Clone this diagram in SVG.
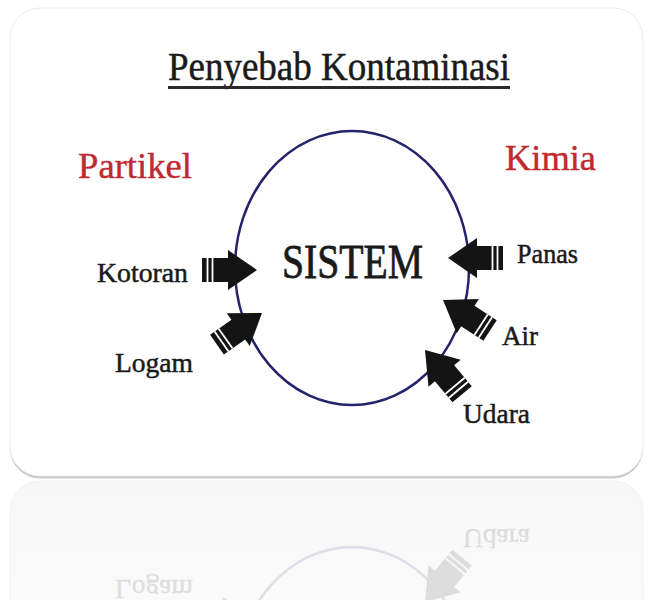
<svg xmlns="http://www.w3.org/2000/svg" xmlns:xlink="http://www.w3.org/1999/xlink" width="652" height="600" viewBox="0 0 652 600">
  <defs>
    <style>
      text { font-family: "Liberation Serif", "DejaVu Serif", serif; fill: #1a1a1a; stroke: #1a1a1a; stroke-width: 0.5; }
      .lbl { font-size: 28px; }
      .red { font-size: 36px; fill: #bf2a2f; stroke: #bf2a2f; stroke-width: 0.4; }
      .arrow-body { fill: #141414; }
      .gap { stroke: #ffffff; stroke-width: 1.8; }
    </style>
    <g id="arrow">
      <polygon class="arrow-body" points="0,0 -29,-20 -29,20"/>
      <rect class="arrow-body" x="-55" y="-12" width="27" height="24"/>
      <line class="gap" x1="-49.5" y1="-12" x2="-49.5" y2="12"/>
      <line class="gap" x1="-44.5" y1="-12" x2="-44.5" y2="12"/>
    </g>
    <clipPath id="reflClip">
      <rect x="0" y="481" width="652" height="119"/>
    </clipPath>
    <linearGradient id="reflBg" x1="0" y1="0" x2="0" y2="1">
      <stop offset="0" stop-color="#f7f7f7"/>
      <stop offset="1" stop-color="#fbfbfb"/>
    </linearGradient>
  </defs>

  <rect x="0" y="0" width="652" height="600" fill="#ffffff"/>

  <!-- card with shadow -->
  <rect x="10" y="10.5" width="633" height="468" rx="30" fill="#c9c9c9"/>
  <rect x="10" y="8" width="633" height="468" rx="30" fill="#ffffff" stroke="#ebebeb" stroke-width="1"/>

  <!-- reflection card -->
  <rect x="10" y="481" width="633" height="160" rx="30" fill="url(#reflBg)" stroke="#f2f2f2" stroke-width="1"/>

  <g id="content">
    <g id="title">
      <text x="168" y="80" font-size="41" textLength="342" lengthAdjust="spacingAndGlyphs">Penyebab Kontaminasi</text>
      <line x1="168" y1="87.5" x2="510" y2="87.5" stroke="#2a2a2a" stroke-width="3"/>
    </g>

    <g id="partikel">
      <text class="red" x="78" y="178" textLength="114" lengthAdjust="spacingAndGlyphs">Partikel</text>
    </g>
    <g id="kimia">
      <text class="red" x="505" y="170" textLength="91" lengthAdjust="spacingAndGlyphs">Kimia</text>
    </g>

    <g id="sistem">
      <ellipse cx="352" cy="268" rx="117" ry="137" fill="none" stroke="#25246b" stroke-width="2.5"/>
      <text x="282" y="278" font-size="48" textLength="141" lengthAdjust="spacingAndGlyphs" style="stroke-width:0.8">SISTEM</text>
    </g>

    <g id="kotoran">
      <text class="lbl" x="97" y="282" textLength="91" lengthAdjust="spacingAndGlyphs">Kotoran</text>
    </g>
    <g id="logam">
      <text class="lbl" x="115" y="372" textLength="78" lengthAdjust="spacingAndGlyphs">Logam</text>
    </g>
    <g id="panas">
      <text class="lbl" x="517" y="263" textLength="61" lengthAdjust="spacingAndGlyphs">Panas</text>
    </g>
    <g id="air">
      <text class="lbl" x="502" y="345" textLength="36" lengthAdjust="spacingAndGlyphs">Air</text>
    </g>
    <g id="udara">
      <text class="lbl" x="463" y="423" textLength="67" lengthAdjust="spacingAndGlyphs">Udara</text>
    </g>

    <g id="connectors">
      <use xlink:href="#arrow" transform="translate(257,270)"/>
      <use xlink:href="#arrow" transform="translate(262,313) rotate(-35)"/>
      <use xlink:href="#arrow" transform="translate(448,258) rotate(180)"/>
      <use xlink:href="#arrow" transform="translate(443,300) rotate(-147) scale(1.02)"/>
      <use xlink:href="#arrow" transform="translate(425,350) rotate(-130) scale(1.05)"/>
    </g>
  </g>

  <!-- reflection -->
  <g clip-path="url(#reflClip)" opacity="0.12">
    <use xlink:href="#content" transform="translate(0,952) scale(1,-1)"/>
  </g>
</svg>
